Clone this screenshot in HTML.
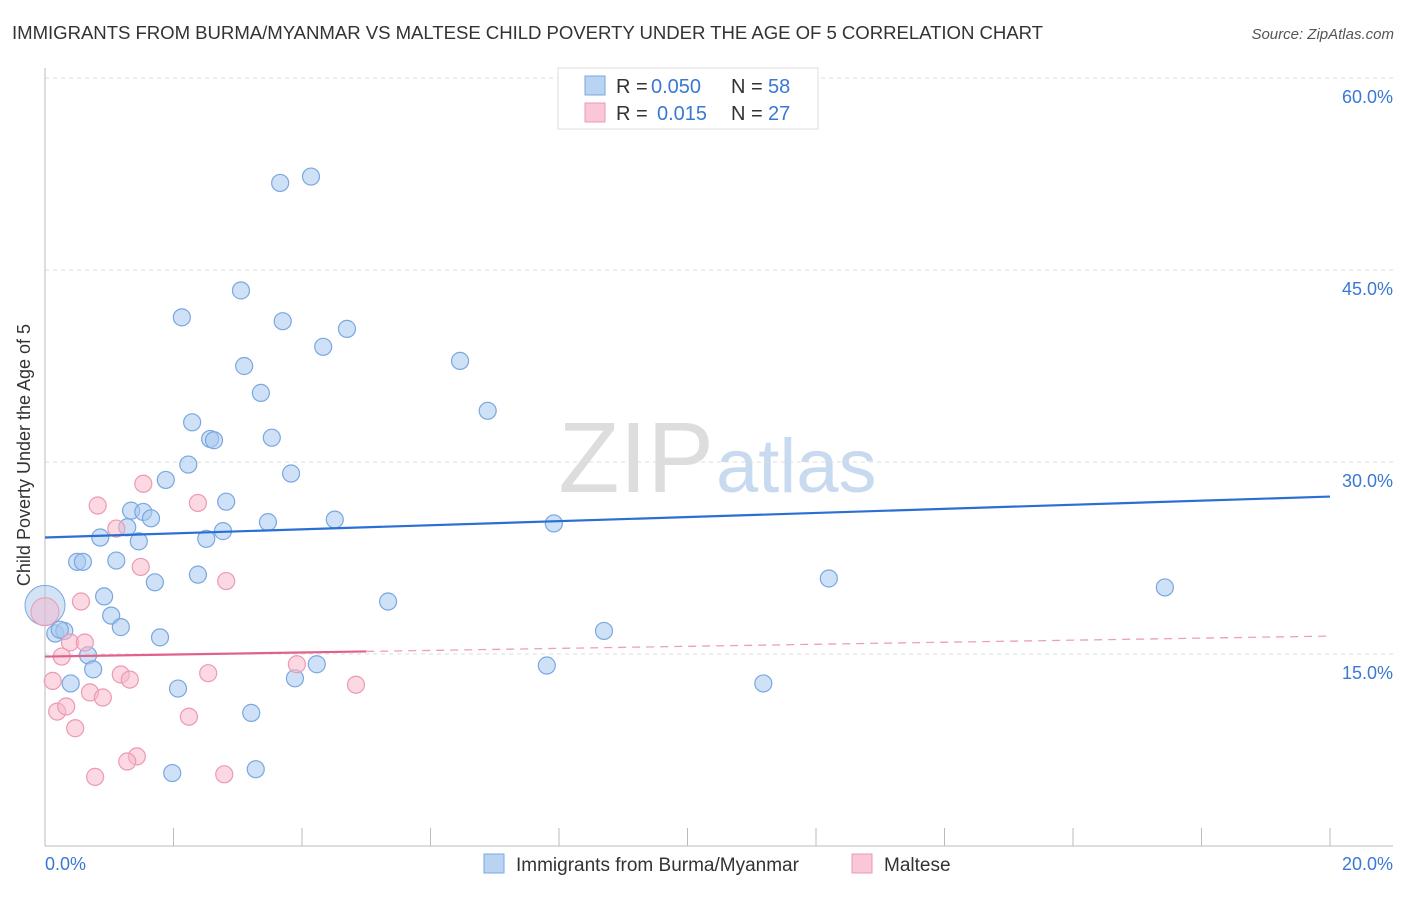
<!DOCTYPE html>
<html><head><meta charset="utf-8"><style>
body{margin:0;background:#fff;font-family:"Liberation Sans",sans-serif}
svg text{font-family:"Liberation Sans",sans-serif}
</style></head><body>
<svg id="chart" width="1406" height="892">
<text x="12" y="39" font-size="18.6" fill="#333" textLength="1031">IMMIGRANTS FROM BURMA/MYANMAR VS MALTESE CHILD POVERTY UNDER THE AGE OF 5 CORRELATION CHART</text>
<text x="1394" y="39" font-size="15" fill="#555" font-style="italic" text-anchor="end">Source: ZipAtlas.com</text>
<text x="30" y="455" font-size="18" fill="#333" text-anchor="middle" transform="rotate(-90 30 455)">Child Poverty Under the Age of 5</text>
<text x="714" y="492" font-size="100" fill="#ddd" text-anchor="end" font-family="Liberation Serif">ZIP</text>
<text x="716" y="492" font-size="76" fill="#c8daf0">atlas</text>
<g id="grid"></g><g id="axes"></g><g id="marks"></g>
<g>
<rect x="558" y="68" width="260" height="61" fill="#fff" stroke="#ddd"/>
<rect x="585" y="76" width="20" height="19" fill="#b9d3f3" stroke="#7aa7e0"/>
<rect x="585" y="103" width="20" height="19" fill="#f9c7d6" stroke="#eb9ab3"/>
<text x="616" y="93" font-size="20" fill="#333">R =</text>
<text x="651" y="93" font-size="20" fill="#3a78d4">0.050</text>
<text x="731" y="93" font-size="20" fill="#333">N =</text>
<text x="768" y="93" font-size="20" fill="#3a78d4">58</text>
<text x="616" y="120" font-size="20" fill="#333">R =</text>
<text x="657" y="120" font-size="20" fill="#3a78d4">0.015</text>
<text x="731" y="120" font-size="20" fill="#333">N =</text>
<text x="768" y="120" font-size="20" fill="#3a78d4">27</text>
</g>
<g>
<rect x="484" y="854" width="20" height="19" fill="#b9d3f3" stroke="#7aa7e0"/>
<text x="516" y="871" font-size="19" fill="#333">Immigrants from Burma/Myanmar</text>
<rect x="852" y="854" width="20" height="19" fill="#f9c7d6" stroke="#eb9ab3"/>
<text x="884" y="871" font-size="19" fill="#333">Maltese</text>
</g>
</svg>
<script>
const xTicks=[0,20];
const yTicks=[15,30,45,60];
const blueX=[3.66,4.14,3.05,2.13,3.70,4.70,4.33,6.46,3.10,3.36,6.89,2.29,2.57,2.63,3.53,2.23,3.83,1.88,2.82,1.34,1.53,1.65,1.28,3.47,4.51,7.92,2.77,0.86,1.46,2.51,0.50,0.59,1.11,2.38,1.71,12.20,17.43,0.92,5.34,1.03,1.18,0.16,0.30,1.79,8.70,0.67,4.23,0.75,7.81,3.89,0.40,2.07,11.18,3.21,1.98,3.28,0.23];
const blueY=[51.8,52.3,43.4,41.3,41.0,40.4,39.0,37.9,37.5,35.4,34.0,33.1,31.8,31.7,31.9,29.8,29.1,28.6,26.9,26.2,26.1,25.6,24.9,25.3,25.5,25.2,24.6,24.1,23.8,24.0,22.2,22.2,22.3,21.2,20.6,20.9,20.2,19.5,19.1,18.0,17.1,16.6,16.8,16.3,16.8,14.9,14.2,13.8,14.1,13.1,12.7,12.3,12.7,10.4,5.7,6.0,16.9];
const pinkX=[1.53,0.82,2.38,1.11,1.49,2.82,0.56,0.39,0.62,0.26,3.92,2.54,1.18,1.32,0.12,0.70,0.90,4.84,0.19,0.33,2.24,0.47,1.43,1.28,0.78,2.79];
const pinkY=[28.3,26.6,26.8,24.8,21.8,20.7,19.1,15.9,15.9,14.8,14.2,13.5,13.4,13.0,12.9,12.0,11.6,12.6,10.5,10.9,10.1,9.2,7.0,6.6,5.4,5.6];
const bigBlue=[0,18.8], bigPink=[0,18.3];
const blueTrend=[24.1,27.3];
const pinkTrend=[14.8,16.4];
const pinkSolidEnd=5.0;
const sx=v=>45+v*64.25, sy=v=>846-v*12.8;
const NS="http://www.w3.org/2000/svg";
function mk(t,a,p){const e=document.createElementNS(NS,t);for(const k in a)e.setAttribute(k,a[k]);document.getElementById(p).appendChild(e);return e;}
yTicks.forEach(v=>{
 const g=mk('line',{x1:45,x2:1393,y1:sy(v),y2:sy(v),stroke:'#ddd','stroke-dasharray':'4,4'},'grid');
 
 
 const t=mk('text',{x:1393,y:sy(v)+25,'font-size':18,fill:'#3a78d4','text-anchor':'end'},'axes');
 t.textContent=v.toFixed(1)+'%';
 
 
});
mk('line',{x1:45,x2:45,y1:68,y2:846,stroke:'#bbb'},'axes');
mk('line',{x1:45,x2:1393,y1:846,y2:846,stroke:'#bbb'},'axes');
for(let i=0;i<=10;i++){const e=mk('line',{x1:sx(i*2),x2:sx(i*2),y1:828,y2:846,stroke:'#bbb'},'axes');
 
 }
xTicks.forEach((v,i)=>{const t=mk('text',{x:i?1393:45,y:870,'font-size':18,fill:'#3a78d4','text-anchor':i?'end':'start'},'axes');
 t.textContent=v.toFixed(1)+'%';
 
 });
let c=mk('circle',{cx:sx(bigBlue[0]),cy:sy(bigBlue[1]),r:20,fill:'rgba(168,200,238,0.5)',stroke:'#7aa7e0'},'marks');


c=mk('circle',{cx:sx(bigPink[0]),cy:sy(bigPink[1]),r:14,fill:'rgba(247,184,203,0.5)',stroke:'#eb9ab3'},'marks');


blueX.forEach((x,i)=>{const e=mk('circle',{cx:sx(x),cy:sy(blueY[i]),r:8.5,fill:'rgba(168,200,238,0.55)',stroke:'#7aa7e0','stroke-width':1.2},'marks');
 
 });
pinkX.forEach((x,i)=>{const e=mk('circle',{cx:sx(x),cy:sy(pinkY[i]),r:8.5,fill:'rgba(247,184,203,0.55)',stroke:'#eb9ab3','stroke-width':1.2},'marks');
 
 });
let l=mk('line',{x1:sx(0),x2:sx(20),y1:sy(blueTrend[0]),y2:sy(blueTrend[1]),stroke:'#2a6fd4','stroke-width':2.2},'marks');


const pm=pinkTrend[0]+(pinkTrend[1]-pinkTrend[0])*pinkSolidEnd/20;
l=mk('line',{x1:sx(0),x2:sx(pinkSolidEnd),y1:sy(pinkTrend[0]),y2:sy(pm),stroke:'#e0628a','stroke-width':2.2},'marks');


l=mk('line',{x1:sx(pinkSolidEnd),x2:sx(20),y1:sy(pm),y2:sy(pinkTrend[1]),stroke:'#eba0b8','stroke-width':1.3,'stroke-dasharray':'8,6'},'marks');


</script>
</body></html>
